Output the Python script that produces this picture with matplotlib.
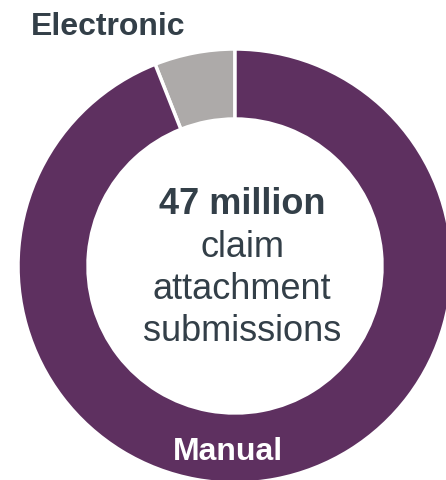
import matplotlib
matplotlib.use('Agg')
import matplotlib.pyplot as plt

plt.rcParams['font.family'] = ['Liberation Sans', 'DejaVu Sans']

# data
labels = ['Electronic', 'Manual']
shares = [6, 94]
colors = ['#ADAAA9', '#5E3060']
center_lines = ['claim', 'attachment', 'submissions']
headline = '47 million'

text_col = '#333F48'

fig = plt.figure(figsize=(4.46, 4.80), dpi=100)
ax = fig.add_axes([0, 0, 1, 1])
ax.set_xlim(0, 446)
ax.set_ylim(0, 480)
ax.set_aspect('equal')
ax.axis('off')

# donut, pixel coords (y up)
ax.pie(shares, colors=colors, startangle=90, counterclock=True,
       radius=217, center=(235, 480 - 266), frame=True,
       wedgeprops=dict(width=70, edgecolor='white', linewidth=2.5))
ax.set_xlim(0, 446)
ax.set_ylim(0, 480)
ax.axis('off')

ax.text(108, 480 - 35, labels[0], ha='center', va='baseline',
        fontsize=23, fontweight='bold', color=text_col)
ax.text(228, 480 - 460, labels[1], ha='center', va='baseline',
        fontsize=23, fontweight='bold', color='white')

ax.text(242, 480 - 214, headline, ha='center', va='baseline',
        fontsize=26, fontweight='bold', color=text_col)
for i, line in enumerate(center_lines):
    ax.text(242, 480 - (257 + 42 * i), line, ha='center', va='baseline',
            fontsize=26, color=text_col)

fig.savefig('out.png', dpi=100)
